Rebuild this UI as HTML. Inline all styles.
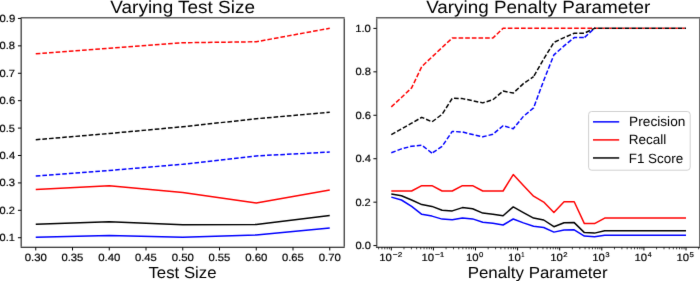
<!DOCTYPE html><html><head><meta charset="utf-8"><style>html,body{margin:0;padding:0;background:#fff;overflow:hidden}svg{display:block;will-change:transform}text{font-family:"Liberation Sans",sans-serif;fill:#000;text-rendering:geometricPrecision}</style></head><body>
<svg width="700" height="281" viewBox="0 0 700 281">
<defs><filter id="bl" x="0" y="0" width="700" height="281" filterUnits="userSpaceOnUse" color-interpolation-filters="sRGB"><feConvolveMatrix order="3" kernelMatrix="0.00524 0.06192 0.00524 0.06192 0.73137 0.06192 0.00524 0.06192 0.00524" edgeMode="duplicate" preserveAlpha="true"/></filter></defs><g filter="url(#bl)">
<rect width="700" height="281" fill="#fff"/>
<clipPath id="cl"><rect x="21.15" y="17.65" width="323.05" height="229.6"/></clipPath>
<clipPath id="cov"><rect x="376.6" y="0" width="218.39999999999998" height="281"/></clipPath>
<clipPath id="cr"><rect x="376.6" y="17.65" width="323.0" height="229.6"/></clipPath>
<g clip-path="url(#cl)">
<polyline points="35.75,176.00 109.25,170.50 182.75,164.25 256.25,155.90 329.75,152.10" fill="none" stroke="#0000ff" stroke-width="1.48" stroke-linejoin="round" stroke-dasharray="4.636,2.0"/>
<polyline points="35.75,53.75 109.25,48.25 182.75,42.75 256.25,41.75 329.75,28.25" fill="none" stroke="#ff0000" stroke-width="1.48" stroke-linejoin="round" stroke-dasharray="4.636,2.0"/>
<polyline points="35.75,139.75 109.25,133.50 182.75,126.75 256.25,118.75 329.75,112.25" fill="none" stroke="#000000" stroke-width="1.48" stroke-linejoin="round" stroke-dasharray="4.636,2.0"/>
<polyline points="35.75,237.25 109.25,235.50 182.75,237.20 256.25,235.00 329.75,228.00" fill="none" stroke="#0000ff" stroke-width="1.48" stroke-linejoin="round"/>
<polyline points="35.75,189.50 109.25,185.75 182.75,192.50 256.25,203.00 329.75,190.00" fill="none" stroke="#ff0000" stroke-width="1.48" stroke-linejoin="round"/>
<polyline points="35.75,224.25 109.25,221.75 182.75,224.70 256.25,224.50 329.75,215.40" fill="none" stroke="#000000" stroke-width="1.48" stroke-linejoin="round"/>
</g><g clip-path="url(#cr)">
<g clip-path="url(#cov)"><polyline points="391.30,152.80 401.46,148.90 411.62,146.20 421.79,145.20 431.95,153.10" fill="none" stroke="#0000ff" stroke-width="1.48" stroke-linejoin="round" stroke-dasharray="4.636,2.0" stroke-dashoffset="0.00"/><polyline points="431.95,153.10 442.11,146.40 452.27,131.40 462.43,132.00 472.60,134.50 482.76,136.80 492.92,134.30 503.08,125.70 513.24,128.70 523.41,116.40 533.57,107.90 543.73,80.50 553.89,54.90 564.06,45.90 574.22,37.60 584.38,37.60" fill="none" stroke="#0000ff" stroke-width="1.48" stroke-linejoin="round" stroke-dasharray="4.636,2.0" stroke-dashoffset="5.66"/><polyline points="584.38,37.60 594.54,28.30 604.70,28.30 614.87,28.30 625.03,28.30 635.19,28.30 645.35,28.30 655.51,28.30 665.68,28.30 675.84,28.30 686.00,28.30" fill="none" stroke="#0000ff" stroke-width="1.48" stroke-linejoin="round" stroke-dasharray="4.636,2.0" stroke-dashoffset="6.34"/></g>
<g clip-path="url(#cov)"><polyline points="391.30,106.90 401.46,97.50 411.62,87.90 421.79,66.50 431.95,57.00 442.11,47.50 452.27,38.00 462.43,38.00 472.60,38.00 482.76,38.00 492.92,38.00 503.08,28.30 513.24,28.30 523.41,28.30 533.57,28.30 543.73,28.30 553.89,28.30 564.06,28.30 574.22,28.30 584.38,28.30 594.54,28.30 604.70,28.30 614.87,28.30 625.03,28.30 635.19,28.30 645.35,28.30 655.51,28.30 665.68,28.30 675.84,28.30 686.00,28.30" fill="none" stroke="#ff0000" stroke-width="1.48" stroke-linejoin="round" stroke-dasharray="4.636,2.0" stroke-dashoffset="0.00"/></g>
<polyline points="391.30,134.60 401.46,128.90 411.62,123.20 421.79,117.30 431.95,121.90 442.11,114.30 452.27,98.30 462.43,98.60 472.60,100.70 482.76,102.90 492.92,99.70 503.08,91.10 513.24,93.10 523.41,83.60 533.57,76.70" fill="none" stroke="#000000" stroke-width="1.48" stroke-linejoin="round" stroke-dasharray="4.636,2.0" stroke-dashoffset="0.00"/><polyline points="533.57,76.70 543.73,59.00 553.89,42.40 564.06,37.60 574.22,33.20 584.38,33.20 594.54,28.30 604.70,28.30 614.87,28.30 625.03,28.30 635.19,28.30 645.35,28.30 655.51,28.30 665.68,28.30 675.84,28.30 686.00,28.30" fill="none" stroke="#000000" stroke-width="1.48" stroke-linejoin="round" stroke-dasharray="4.636,2.0" stroke-dashoffset="5.72"/>
<line x1="596.10" y1="28.3" x2="686.00" y2="28.3" stroke="#ff0000" stroke-width="1.48" stroke-dasharray="2.0,4.636"/>
<polyline points="391.30,197.10 401.46,200.00 411.62,206.40 421.79,214.30 431.95,216.10 442.11,219.10 452.27,219.70 462.43,217.90 472.60,218.90 482.76,222.20 492.92,223.20 503.08,225.00 513.24,219.00 523.41,222.90 533.57,226.30 543.73,227.50 553.89,232.10 564.06,230.00 574.22,229.80 584.38,236.10 594.54,236.70 604.70,235.30 614.87,235.30 625.03,235.30 635.19,235.30 645.35,235.30 655.51,235.30 665.68,235.30 675.84,235.30 686.00,235.30" fill="none" stroke="#0000ff" stroke-width="1.48" stroke-linejoin="round"/>
<polyline points="391.30,191.00 401.46,191.00 411.62,191.00 421.79,185.70 431.95,185.70 442.11,191.00 452.27,191.00 462.43,185.70 472.60,185.70 482.76,191.00 492.92,191.00 503.08,191.00 513.24,174.60 523.41,185.40 533.57,196.20 543.73,202.10 553.89,212.40 564.06,201.70 574.22,201.70 584.38,223.60 594.54,223.60 604.70,218.10 614.87,218.10 625.03,218.10 635.19,218.10 645.35,218.10 655.51,218.10 665.68,218.10 675.84,218.10 686.00,218.10" fill="none" stroke="#ff0000" stroke-width="1.48" stroke-linejoin="round"/>
<polyline points="391.30,194.00 401.46,195.70 411.62,200.00 421.79,204.60 431.95,206.40 442.11,210.20 452.27,210.90 462.43,207.60 472.60,208.80 482.76,213.10 492.92,214.20 503.08,215.70 513.24,206.90 523.41,212.60 533.57,218.10 543.73,220.00 553.89,226.70 564.06,222.70 574.22,222.60 584.38,232.60 594.54,233.10 604.70,230.70 614.87,230.70 625.03,230.70 635.19,230.70 645.35,230.70 655.51,230.70 665.68,230.70 675.84,230.70 686.00,230.70" fill="none" stroke="#000000" stroke-width="1.48" stroke-linejoin="round"/>
</g>
<line x1="20.65" y1="17.75" x2="344.70" y2="17.75" stroke="#000" stroke-width="1.5" stroke-opacity="0.62"/>
<line x1="20.65" y1="247.25" x2="344.70" y2="247.25" stroke="#000" stroke-width="1.05"/>
<line x1="21.15" y1="18.50" x2="21.15" y2="246.72" stroke="#000" stroke-width="1.0" stroke-opacity="1.0"/>
<line x1="344.20" y1="18.50" x2="344.20" y2="246.72" stroke="#000" stroke-width="1.0" stroke-opacity="1.0"/>
<line x1="375.95" y1="17.75" x2="700.01" y2="17.75" stroke="#000" stroke-width="1.5" stroke-opacity="0.62"/>
<line x1="375.95" y1="247.25" x2="700.01" y2="247.25" stroke="#000" stroke-width="1.05"/>
<line x1="376.70" y1="18.50" x2="376.70" y2="246.72" stroke="#000" stroke-width="1.5" stroke-opacity="0.62"/>
<line x1="699.60" y1="18.50" x2="699.60" y2="246.72" stroke="#000" stroke-width="0.83" stroke-opacity="0.75"/>
<path d="M17.95,237.73H21.15 M17.95,210.32H21.15 M17.95,182.91H21.15 M17.95,155.50H21.15 M17.95,128.09H21.15 M17.95,100.68H21.15 M17.95,73.27H21.15 M17.95,45.86H21.15 M17.95,18.45H21.15 M35.75,247.25V250.45 M72.50,247.25V250.45 M109.25,247.25V250.45 M146.00,247.25V250.45 M182.75,247.25V250.45 M219.50,247.25V250.45 M256.25,247.25V250.45 M293.00,247.25V250.45 M329.75,247.25V250.45 M373.40,245.60H376.6 M373.40,202.16H376.6 M373.40,158.72H376.6 M373.40,115.28H376.6 M373.40,71.84H376.6 M373.40,28.40H376.6 M391.30,247.25V250.45 M433.40,247.25V250.45 M475.50,247.25V250.45 M517.60,247.25V250.45 M559.70,247.25V250.45 M601.80,247.25V250.45 M643.90,247.25V250.45 M686.00,247.25V250.45" stroke="#000" stroke-width="1.0" fill="none"/>
<path d="M378.63,247.25V249.33 M381.96,247.25V249.33 M384.78,247.25V249.33 M387.22,247.25V249.33 M389.37,247.25V249.33 M403.97,247.25V249.33 M411.39,247.25V249.33 M416.65,247.25V249.33 M420.73,247.25V249.33 M424.06,247.25V249.33 M426.88,247.25V249.33 M429.32,247.25V249.33 M431.47,247.25V249.33 M446.07,247.25V249.33 M453.49,247.25V249.33 M458.75,247.25V249.33 M462.83,247.25V249.33 M466.16,247.25V249.33 M468.98,247.25V249.33 M471.42,247.25V249.33 M473.57,247.25V249.33 M488.17,247.25V249.33 M495.59,247.25V249.33 M500.85,247.25V249.33 M504.93,247.25V249.33 M508.26,247.25V249.33 M511.08,247.25V249.33 M513.52,247.25V249.33 M515.67,247.25V249.33 M530.27,247.25V249.33 M537.69,247.25V249.33 M542.95,247.25V249.33 M547.03,247.25V249.33 M550.36,247.25V249.33 M553.18,247.25V249.33 M555.62,247.25V249.33 M557.77,247.25V249.33 M572.37,247.25V249.33 M579.79,247.25V249.33 M585.05,247.25V249.33 M589.13,247.25V249.33 M592.46,247.25V249.33 M595.28,247.25V249.33 M597.72,247.25V249.33 M599.87,247.25V249.33 M614.47,247.25V249.33 M621.89,247.25V249.33 M627.15,247.25V249.33 M631.23,247.25V249.33 M634.56,247.25V249.33 M637.38,247.25V249.33 M639.82,247.25V249.33 M641.97,247.25V249.33 M656.57,247.25V249.33 M663.99,247.25V249.33 M669.25,247.25V249.33 M673.33,247.25V249.33 M676.66,247.25V249.33 M679.48,247.25V249.33 M681.92,247.25V249.33 M684.07,247.25V249.33 M698.67,247.25V249.33" stroke="#000" stroke-width="0.75" fill="none"/>
<rect x="588.6" y="111.5" width="101.6" height="58.7" rx="3" ry="3" fill="#fff" fill-opacity="0.8" stroke="#d0d0d0" stroke-width="1"/>
<text x="-0.49" y="241.23" font-size="10.5" stroke="#000" stroke-width="0.18" textLength="15.33" lengthAdjust="spacingAndGlyphs">0.1</text>
<text x="-0.49" y="213.82" font-size="10.5" stroke="#000" stroke-width="0.18" textLength="15.39" lengthAdjust="spacingAndGlyphs">0.2</text>
<text x="-0.49" y="186.41" font-size="10.5" stroke="#000" stroke-width="0.18" textLength="15.54" lengthAdjust="spacingAndGlyphs">0.3</text>
<text x="-0.48" y="159.00" font-size="10.5" stroke="#000" stroke-width="0.18" textLength="15.65" lengthAdjust="spacingAndGlyphs">0.4</text>
<text x="-0.49" y="131.59" font-size="10.5" stroke="#000" stroke-width="0.18" textLength="15.33" lengthAdjust="spacingAndGlyphs">0.5</text>
<text x="-0.49" y="104.18" font-size="10.5" stroke="#000" stroke-width="0.18" textLength="15.70" lengthAdjust="spacingAndGlyphs">0.6</text>
<text x="-0.49" y="76.77" font-size="10.5" stroke="#000" stroke-width="0.18" textLength="15.54" lengthAdjust="spacingAndGlyphs">0.7</text>
<text x="-0.49" y="49.36" font-size="10.5" stroke="#000" stroke-width="0.18" textLength="15.49" lengthAdjust="spacingAndGlyphs">0.8</text>
<text x="-0.49" y="21.95" font-size="10.5" stroke="#000" stroke-width="0.18" textLength="15.75" lengthAdjust="spacingAndGlyphs">0.9</text>
<text x="24.73" y="260.60" font-size="10.5" stroke="#000" stroke-width="0.18" textLength="22.23" lengthAdjust="spacingAndGlyphs">0.30</text>
<text x="61.48" y="260.60" font-size="10.5" stroke="#000" stroke-width="0.18" textLength="21.86" lengthAdjust="spacingAndGlyphs">0.35</text>
<text x="98.23" y="260.60" font-size="10.5" stroke="#000" stroke-width="0.18" textLength="22.23" lengthAdjust="spacingAndGlyphs">0.40</text>
<text x="134.98" y="260.60" font-size="10.5" stroke="#000" stroke-width="0.18" textLength="21.86" lengthAdjust="spacingAndGlyphs">0.45</text>
<text x="171.73" y="260.60" font-size="10.5" stroke="#000" stroke-width="0.18" textLength="22.22" lengthAdjust="spacingAndGlyphs">0.50</text>
<text x="208.48" y="260.60" font-size="10.5" stroke="#000" stroke-width="0.18" textLength="21.86" lengthAdjust="spacingAndGlyphs">0.55</text>
<text x="245.23" y="260.60" font-size="10.5" stroke="#000" stroke-width="0.18" textLength="22.27" lengthAdjust="spacingAndGlyphs">0.60</text>
<text x="281.98" y="260.60" font-size="10.5" stroke="#000" stroke-width="0.18" textLength="21.86" lengthAdjust="spacingAndGlyphs">0.65</text>
<text x="318.73" y="260.60" font-size="10.5" stroke="#000" stroke-width="0.18" textLength="22.22" lengthAdjust="spacingAndGlyphs">0.70</text>
<text x="355.41" y="249.10" font-size="10.5" stroke="#000" stroke-width="0.18" textLength="15.49" lengthAdjust="spacingAndGlyphs">0.0</text>
<text x="355.41" y="205.66" font-size="10.5" stroke="#000" stroke-width="0.18" textLength="15.38" lengthAdjust="spacingAndGlyphs">0.2</text>
<text x="355.42" y="162.22" font-size="10.5" stroke="#000" stroke-width="0.18" textLength="15.65" lengthAdjust="spacingAndGlyphs">0.4</text>
<text x="355.41" y="118.78" font-size="10.5" stroke="#000" stroke-width="0.18" textLength="15.69" lengthAdjust="spacingAndGlyphs">0.6</text>
<text x="355.41" y="75.34" font-size="10.5" stroke="#000" stroke-width="0.18" textLength="15.49" lengthAdjust="spacingAndGlyphs">0.8</text>
<text x="355.19" y="31.90" font-size="10.5" stroke="#000" stroke-width="0.18" textLength="15.71" lengthAdjust="spacingAndGlyphs">1.0</text>
<text x="379.32" y="260.80" font-size="10.5" stroke="#000" stroke-width="0.18" textLength="12.63" lengthAdjust="spacingAndGlyphs">10</text>
<text x="392.85" y="256.80" font-size="7.0" stroke="#000" stroke-width="0.18" textLength="9.45" lengthAdjust="spacingAndGlyphs">−2</text>
<text x="421.42" y="260.80" font-size="10.5" stroke="#000" stroke-width="0.18" textLength="12.63" lengthAdjust="spacingAndGlyphs">10</text>
<text x="434.95" y="256.80" font-size="7.0" stroke="#000" stroke-width="0.18" textLength="9.45" lengthAdjust="spacingAndGlyphs">−1</text>
<text x="466.02" y="260.80" font-size="10.5" stroke="#000" stroke-width="0.18" textLength="12.63" lengthAdjust="spacingAndGlyphs">10</text>
<text x="479.03" y="256.80" font-size="7.0" stroke="#000" stroke-width="0.18" textLength="4.33" lengthAdjust="spacingAndGlyphs">0</text>
<text x="508.12" y="260.80" font-size="10.5" stroke="#000" stroke-width="0.18" textLength="12.63" lengthAdjust="spacingAndGlyphs">10</text>
<text x="521.14" y="256.80" font-size="7.0" stroke="#000" stroke-width="0.18" textLength="3.21" lengthAdjust="spacingAndGlyphs">1</text>
<text x="550.22" y="260.80" font-size="10.5" stroke="#000" stroke-width="0.18" textLength="12.63" lengthAdjust="spacingAndGlyphs">10</text>
<text x="563.23" y="256.80" font-size="7.0" stroke="#000" stroke-width="0.18" textLength="4.33" lengthAdjust="spacingAndGlyphs">2</text>
<text x="592.32" y="260.80" font-size="10.5" stroke="#000" stroke-width="0.18" textLength="12.63" lengthAdjust="spacingAndGlyphs">10</text>
<text x="605.33" y="256.80" font-size="7.0" stroke="#000" stroke-width="0.18" textLength="4.33" lengthAdjust="spacingAndGlyphs">3</text>
<text x="634.42" y="260.80" font-size="10.5" stroke="#000" stroke-width="0.18" textLength="12.63" lengthAdjust="spacingAndGlyphs">10</text>
<text x="647.70" y="256.80" font-size="7.0" stroke="#000" stroke-width="0.18" textLength="3.79" lengthAdjust="spacingAndGlyphs">4</text>
<text x="676.52" y="260.80" font-size="10.5" stroke="#000" stroke-width="0.18" textLength="12.63" lengthAdjust="spacingAndGlyphs">10</text>
<text x="689.53" y="256.80" font-size="7.0" stroke="#000" stroke-width="0.18" textLength="4.33" lengthAdjust="spacingAndGlyphs">5</text>
<text x="110.36" y="12.60" font-size="17.7" stroke="#000" stroke-width="0.0" textLength="144.59" lengthAdjust="spacingAndGlyphs">Varying Test Size</text>
<text x="426.16" y="12.60" font-size="17.7" stroke="#000" stroke-width="0.0" textLength="224.11" lengthAdjust="spacingAndGlyphs">Varying Penalty Parameter</text>
<text x="148.46" y="277.70" font-size="16.1" stroke="#000" stroke-width="0.0" textLength="68.06" lengthAdjust="spacingAndGlyphs">Test Size</text>
<text x="467.65" y="277.80" font-size="16.1" stroke="#000" stroke-width="0.0" textLength="139.95" lengthAdjust="spacingAndGlyphs">Penalty Parameter</text>
<text x="629.12" y="126.25" font-size="13.4" stroke="#000" stroke-width="0.0" textLength="56.24" lengthAdjust="spacingAndGlyphs">Precision</text>
<text x="628.70" y="144.30" font-size="13.4" stroke="#000" stroke-width="0.0" textLength="37.64" lengthAdjust="spacingAndGlyphs">Recall</text>
<text x="628.72" y="162.95" font-size="13.4" stroke="#000" stroke-width="0.0" textLength="54.41" lengthAdjust="spacingAndGlyphs">F1 Score</text>
<line x1="593" y1="121.85" x2="619.2" y2="121.85" stroke="#0000ff" stroke-width="1.48"/>
<line x1="593" y1="139.90" x2="619.2" y2="139.90" stroke="#ff0000" stroke-width="1.48"/>
<line x1="593" y1="157.95" x2="619.2" y2="157.95" stroke="#000000" stroke-width="1.48"/>
</g>
</svg></body></html>
